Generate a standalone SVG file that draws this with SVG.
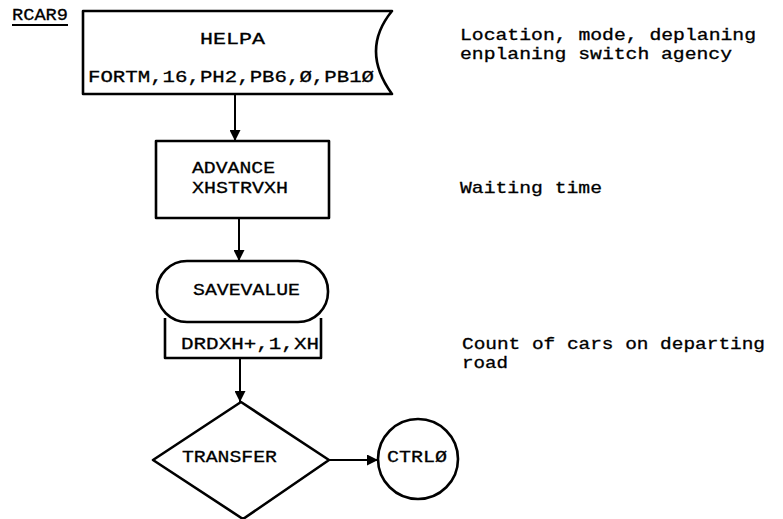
<svg xmlns="http://www.w3.org/2000/svg" width="783" height="519" viewBox="0 0 783 519">
<defs>
<marker id="ah" viewBox="0 0 10 10" refX="10" refY="5" markerWidth="6" markerHeight="5.5" orient="auto" markerUnits="strokeWidth">
<path d="M0,0 L10,5 L0,10 Z" fill="#000"/>
</marker>
<style>
.t{font-family:"Liberation Mono","Courier New",monospace;font-size:17px;fill:#000;stroke:#000;stroke-width:0.3px}
.n{font-size:16px}
.s{fill:none;stroke:#000;stroke-width:2.6;stroke-linejoin:round}
.c{fill:none;stroke:#000;stroke-width:2}
</style>
</defs>
<rect width="783" height="519" fill="#fff"/>
<g id="label-rcar9">
<text class="t" x="12" y="20" textLength="56" lengthAdjust="spacingAndGlyphs">RCAR9</text>
<line x1="12" y1="25" x2="68" y2="25" stroke="#000" stroke-width="2"/>
</g>
<g id="helpa">
<path class="s" d="M83,11 L392,11 Q360,50 392,94 L83,94 Z"/>
<text class="t" x="200" y="44" textLength="65" lengthAdjust="spacingAndGlyphs">HELPA</text>
<text class="t" x="88" y="82" textLength="286" lengthAdjust="spacingAndGlyphs">FORTM,16,PH2,PB6,Ø,PB1Ø</text>
</g>
<g id="advance">
<rect class="s" x="156" y="141" width="173" height="77"/>
<text class="t" x="192" y="173" textLength="83" lengthAdjust="spacingAndGlyphs">ADVANCE</text>
<text class="t" x="192" y="193" textLength="96" lengthAdjust="spacingAndGlyphs">XHSTRVXH</text>
</g>
<g id="savevalue">
<path class="s" d="M165,318 L165,358 L321,358 L321,318"/>
<rect class="s" x="157" y="261" width="171" height="61" rx="30" ry="30" fill="#fff"/>
<text class="t" x="193" y="295" textLength="107" lengthAdjust="spacingAndGlyphs">SAVEVALUE</text>
<text class="t" x="181" y="349" textLength="138" lengthAdjust="spacingAndGlyphs">DRDXH+,1,XH</text>
</g>
<g id="transfer">
<path class="s" d="M241,402 L329,460 L243,519 L153,460 Z"/>
<text class="t" x="182" y="462" textLength="95" lengthAdjust="spacingAndGlyphs">TRANSFER</text>
</g>
<g id="ctrl0">
<circle class="s" cx="418" cy="459" r="40"/>
<text class="t" x="387" y="462" textLength="60" lengthAdjust="spacingAndGlyphs">CTRLØ</text>
</g>
<g id="connectors">
<line class="c" x1="235" y1="94" x2="235" y2="141" marker-end="url(#ah)"/>
<line class="c" x1="239" y1="218" x2="239" y2="261" marker-end="url(#ah)"/>
<line class="c" x1="240" y1="358" x2="240" y2="402" marker-end="url(#ah)"/>
<line class="c" x1="329" y1="460" x2="378" y2="460" marker-end="url(#ah)"/>
</g>
<g id="notes">
<text class="t n" x="460" y="40" textLength="296" lengthAdjust="spacingAndGlyphs">Location, mode, deplaning</text>
<text class="t n" x="460" y="59" textLength="272" lengthAdjust="spacingAndGlyphs">enplaning switch agency</text>
<text class="t" x="460" y="193" textLength="142" lengthAdjust="spacingAndGlyphs">Waiting time</text>
<text class="t n" x="462" y="349" textLength="303" lengthAdjust="spacingAndGlyphs">Count of cars on departing</text>
<text class="t n" x="462" y="368" textLength="46" lengthAdjust="spacingAndGlyphs">road</text>
</g>
</svg>
